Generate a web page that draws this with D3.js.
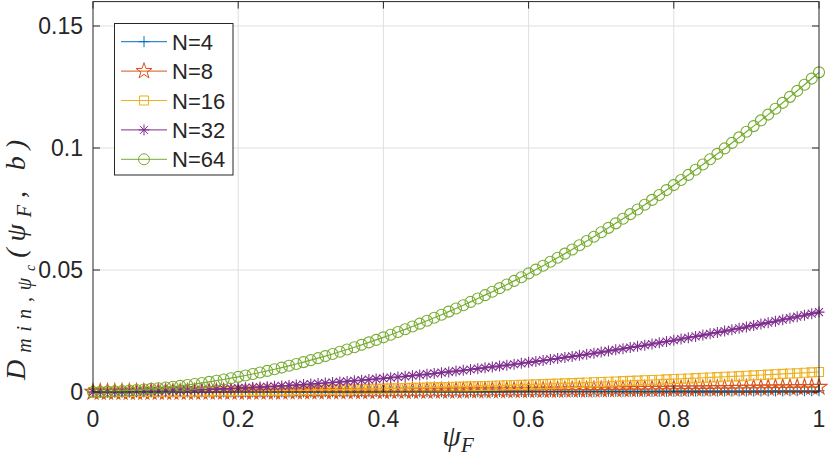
<!DOCTYPE html>
<html>
<head>
<meta charset="utf-8">
<script src="https://cdn.jsdelivr.net/npm/d3@7"></script>
<style>
body { margin: 0; background: #fff; }
text { font-family: "Liberation Sans", Arial, sans-serif; fill: #262626; }
.math { font-family: "Liberation Serif", "DejaVu Serif", serif; font-style: italic; }
</style>
</head>
<body>
<svg width="828" height="463"></svg>
<script>
//x runs from 0 to 1 in steps of 0.01
var psiStep = 0.01;

//values, one per step
var n4 = [0,0,0,0,0,0,0,0,0.00001,0.00001,0.00001,
	0.00001,0.00001,0.00001,0.00001,0.00001,0.00002,0.00002,0.00002,0.00002,0.00002,
	0.00003,0.00003,0.00003,0.00003,0.00004,0.00004,0.00004,0.00004,0.00005,0.00005,
	0.00005,0.00006,0.00006,0.00006,0.00007,0.00007,0.00008,0.00008,0.00008,0.00009,
	0.00009,0.0001,0.0001,0.0001,0.00011,0.00011,0.00012,0.00012,0.00013,0.00013,
	0.00014,0.00014,0.00015,0.00015,0.00016,0.00017,0.00017,0.00018,0.00018,0.00019,
	0.0002,0.0002,0.00021,0.00022,0.00022,0.00023,0.00023,0.00024,0.00025,0.00026,
	0.00026,0.00027,0.00028,0.00028,0.00029,0.0003,0.00031,0.00032,0.00032,0.00033,
	0.00034,0.00035,0.00036,0.00036,0.00037,0.00038,0.00039,0.0004,0.00041,0.00042,
	0.00043,0.00043,0.00044,0.00045,0.00046,0.00047,0.00048,0.00049,0.0005,0.00051];

var n8 = [0,0,0,0,0.00001,0.00001,0.00001,0.00002,0.00002,0.00002,0.00003,
	0.00003,0.00004,0.00005,0.00005,0.00006,0.00007,0.00007,0.00008,0.00009,0.0001,
	0.00011,0.00012,0.00012,0.00014,0.00015,0.00016,0.00017,0.00018,0.00019,0.0002,
	0.00022,0.00023,0.00024,0.00026,0.00027,0.00029,0.0003,0.00032,0.00033,0.00035,
	0.00037,0.00038,0.0004,0.00042,0.00044,0.00046,0.00048,0.0005,0.00051,0.00054,
	0.00056,0.00058,0.0006,0.00062,0.00064,0.00066,0.00069,0.00071,0.00074,0.00076,
	0.00078,0.00081,0.00083,0.00086,0.00089,0.00091,0.00094,0.00097,0.00099,0.00102,
	0.00105,0.00108,0.00111,0.00114,0.00117,0.0012,0.00123,0.00126,0.00129,0.00133,
	0.00136,0.00139,0.00142,0.00146,0.00149,0.00153,0.00156,0.0016,0.00163,0.00167,
	0.0017,0.00174,0.00178,0.00181,0.00185,0.00189,0.00193,0.00197,0.00201,0.00205];

var n16 = [0,0.000005,0.00001,0.00002,0.00003,0.00004,0.00005,0.00006,0.00008,0.0001,0.00012,
	0.00014,0.00016,0.00018,0.00021,0.00023,0.00026,0.00029,0.00032,0.00035,0.00039,
	0.00042,0.00046,0.0005,0.00054,0.00058,0.00063,0.00067,0.00072,0.00077,0.00082,
	0.00087,0.00092,0.00097,0.00103,0.00109,0.00115,0.00121,0.00127,0.00133,0.0014,
	0.00147,0.00154,0.00161,0.00168,0.00175,0.00183,0.0019,0.00198,0.00206,0.00214,
	0.00222,0.00231,0.00239,0.00248,0.00257,0.00266,0.00275,0.00285,0.00294,0.00304,
	0.00314,0.00324,0.00334,0.00344,0.00354,0.00365,0.00376,0.00387,0.00398,0.00409,
	0.0042,0.00432,0.00444,0.00456,0.00468,0.0048,0.00492,0.00505,0.00517,0.0053,
	0.00543,0.00556,0.00569,0.00583,0.00596,0.0061,0.00624,0.00638,0.00652,0.00667,
	0.00681,0.00696,0.00711,0.00726,0.00741,0.00756,0.00771,0.00787,0.00803,0.00819];

var n32 = [0,0.00002,0.00004,0.00007,0.00011,0.00015,0.0002,0.00026,0.00032,0.00039,0.00046,
	0.00054,0.00063,0.00072,0.00082,0.00093,0.00104,0.00116,0.00128,0.00141,0.00155,
	0.00169,0.00184,0.002,0.00216,0.00233,0.0025,0.00268,0.00287,0.00306,0.00326,
	0.00347,0.00368,0.0039,0.00412,0.00435,0.00459,0.00483,0.00508,0.00534,0.0056,
	0.00587,0.00614,0.00642,0.00671,0.007,0.0073,0.00761,0.00792,0.00824,0.00856,
	0.00889,0.00923,0.00957,0.00992,0.01028,0.01064,0.01101,0.01138,0.01176,0.01215,
	0.01254,0.01294,0.01335,0.01376,0.01418,0.0146,0.01503,0.01547,0.01591,0.01636,
	0.01682,0.01728,0.01775,0.01822,0.0187,0.01919,0.01968,0.02018,0.02069,0.0212,
	0.02172,0.02224,0.02277,0.02331,0.02385,0.0244,0.02496,0.02552,0.02609,0.02666,
	0.02724,0.02783,0.02842,0.02902,0.02963,0.03024,0.03086,0.03148,0.03211,0.03275];

var n64 = [0,0.00007,0.00017,0.00029,0.00044,0.00061,0.00081,0.00103,0.00128,0.00155,0.00185,
	0.00217,0.00252,0.00289,0.00329,0.00371,0.00416,0.00463,0.00513,0.00565,0.0062,
	0.00677,0.00737,0.00799,0.00864,0.00931,0.01001,0.01073,0.01148,0.01225,0.01305,
	0.01387,0.01472,0.01559,0.01649,0.01741,0.01836,0.01933,0.02033,0.02135,0.0224,
	0.02347,0.02457,0.02569,0.02684,0.02801,0.02921,0.03043,0.03168,0.03295,0.03425,
	0.03557,0.03692,0.03829,0.03969,0.04111,0.04256,0.04403,0.04553,0.04705,0.0486,
	0.05017,0.05177,0.05339,0.05504,0.05671,0.05841,0.06013,0.06188,0.06365,0.06545,
	0.06727,0.06912,0.07099,0.07289,0.07481,0.07676,0.07873,0.08073,0.08275,0.0848,
	0.08687,0.08897,0.09109,0.09324,0.09541,0.09761,0.09983,0.10208,0.10435,0.10665,
	0.10897,0.11132,0.11369,0.11609,0.11851,0.12096,0.12343,0.12593,0.12845,0.131];

var seriesNames = ["N=4", "N=8", "N=16", "N=32", "N=64"];
var seriesValues = [n4, n8, n16, n32, n64];
var seriesColors = ["#0072BD", "#D95319", "#EDB120", "#7E2F8E", "#77AC30"];
var seriesMarkers = ["plus", "star", "square", "asterisk", "circle"];

var xTicks = [0, 0.2, 0.4, 0.6, 0.8, 1];
var xTickLabels = ["0", "0.2", "0.4", "0.6", "0.8", "1"];
var yTicks = [0, 0.05, 0.1, 0.15];
var yTickLabels = ["0", "0.05", "0.1", "0.15"];

var svg = d3.select("svg"),
	width = +svg.attr("width"),
	height = +svg.attr("height");

var margin = { left: 93, right: 9, top: 1.6, bottom: 71 };

var x = d3.scaleLinear().domain([0, 1]).range([margin.left, width - margin.right]);
var y = d3.scaleLinear().domain([0, 0.16]).range([height - margin.bottom, margin.top]);

var axisColor = "#262626";

//grid lines
var grid = svg.append("g").attr("class", "grid");
grid.selectAll(".gx")
	.data(xTicks.slice(1, -1))
	.enter().append("line")
	.attr("x1", function (d) { return x(d); })
	.attr("x2", function (d) { return x(d); })
	.attr("y1", y(0.16))
	.attr("y2", y(0))
	.style("stroke", "#dfdfdf");
grid.selectAll(".gy")
	.data(yTicks.slice(1))
	.enter().append("line")
	.attr("y1", function (d) { return y(d); })
	.attr("y2", function (d) { return y(d); })
	.attr("x1", x(0))
	.attr("x2", x(1))
	.style("stroke", "#dfdfdf");

//marker shapes
function markerPath(type) {
	var r = 5.5, a = r * 0.72;
	if (type == "plus") return "M" + (-r) + ",0L" + r + ",0M0," + (-r) + "L0," + r;
	if (type == "asterisk") return "M" + (-r) + ",0L" + r + ",0M0," + (-r) + "L0," + r +
		"M" + (-a) + "," + (-a) + "L" + a + "," + a + "M" + (-a) + "," + a + "L" + a + "," + (-a);
	if (type == "square") return "M-4.5,-4.5L4.5,-4.5L4.5,4.5L-4.5,4.5Z";
	if (type == "circle") return d3.symbol().type(d3.symbolCircle).size(Math.PI * 5.5 * 5.5)();
	if (type == "star") return d3.symbol().type(d3.symbolStar).size(80)();
}

var line = d3.line()
	.x(function (d, i) { return x(i * psiStep); })
	.y(function (d) { return y(d); });

var plot = svg.append("g").attr("class", "series");

seriesValues.forEach(function (vals, k) {
	var g = plot.append("g");
	g.append("path")
		.datum(vals)
		.attr("d", line)
		.style("fill", "none")
		.style("stroke", seriesColors[k])
		.style("stroke-width", 1.2);
	g.selectAll(".m")
		.data(vals)
		.enter().append("path")
		.attr("d", markerPath(seriesMarkers[k]))
		.attr("transform", function (d, i) { return "translate(" + x(i * psiStep) + "," + y(d) + ")"; })
		.style("fill", "none")
		.style("stroke", seriesColors[k])
		.style("stroke-width", 1.1);
});

//axes box with inward ticks on all sides
var axes = svg.append("g").attr("class", "axes");
axes.append("rect")
	.attr("x", x(0))
	.attr("y", y(0.16))
	.attr("width", x(1) - x(0))
	.attr("height", y(0) - y(0.16))
	.style("fill", "none")
	.style("stroke", axisColor)
	.style("stroke-width", 1);

var tickLen = 7;
xTicks.forEach(function (t) {
	axes.append("line").attr("x1", x(t)).attr("x2", x(t)).attr("y1", y(0)).attr("y2", y(0) - tickLen).style("stroke", axisColor);
	axes.append("line").attr("x1", x(t)).attr("x2", x(t)).attr("y1", y(0.16)).attr("y2", y(0.16) + tickLen).style("stroke", axisColor);
});
yTicks.forEach(function (t) {
	axes.append("line").attr("y1", y(t)).attr("y2", y(t)).attr("x1", x(0)).attr("x2", x(0) + tickLen).style("stroke", axisColor);
	axes.append("line").attr("y1", y(t)).attr("y2", y(t)).attr("x1", x(1)).attr("x2", x(1) - tickLen).style("stroke", axisColor);
});

axes.selectAll(".xl")
	.data(xTicks)
	.enter().append("text")
	.attr("x", function (d) { return x(d); })
	.attr("y", y(0) + 35)
	.attr("text-anchor", "middle")
	.style("font-size", "23px")
	.text(function (d, i) { return xTickLabels[i]; });

axes.selectAll(".yl")
	.data(yTicks)
	.enter().append("text")
	.attr("x", x(0) - 10)
	.attr("y", function (d) { return y(d) + 8; })
	.attr("text-anchor", "end")
	.style("font-size", "23px")
	.text(function (d, i) { return yTickLabels[i]; });

//x label
var xl = svg.append("text")
	.attr("class", "math")
	.attr("x", x(0.5) + 2)
	.attr("y", 446)
	.attr("text-anchor", "middle")
	.style("font-size", "30px");
xl.append("tspan").text("ψ");
xl.append("tspan").attr("dy", 6).style("font-size", "21px").text("F");

//y label, stretched over the same run as in the figure
var yl = svg.append("text")
	.attr("class", "math")
	.attr("transform", "translate(25,380) rotate(-90)")
	.attr("textLength", 240)
	.attr("lengthAdjust", "spacing")
	.style("font-size", "28px");
yl.append("tspan").text("D");
yl.append("tspan").attr("dy", 6).style("font-size", "20px").text("min,ψ");
yl.append("tspan").attr("dy", 4).style("font-size", "14px").text("c");
yl.append("tspan").attr("dy", -10).text("(ψ");
yl.append("tspan").attr("dy", 6).style("font-size", "20px").text("F");
yl.append("tspan").attr("dy", -6).text(", b)");

//legend
var legend = svg.append("g").attr("class", "legend");
legend.append("rect")
	.attr("x", 114.5)
	.attr("y", 23.5)
	.attr("width", 118.5)
	.attr("height", 151.5)
	.style("fill", "#fff")
	.style("stroke", axisColor)
	.style("stroke-width", 1);

seriesNames.forEach(function (name, k) {
	var cy = 41.7 + k * 29.4;
	var row = legend.append("g");
	row.append("line")
		.attr("x1", 121).attr("x2", 167)
		.attr("y1", cy).attr("y2", cy)
		.style("stroke", seriesColors[k]);
	row.append("path")
		.attr("d", markerPath(seriesMarkers[k]))
		.attr("transform", "translate(144," + cy + ")")
		.style("fill", "none")
		.style("stroke", seriesColors[k]);
	row.append("text")
		.attr("x", 172)
		.attr("y", cy + 8)
		.style("font-size", "22px")
		.text(name);
});
</script>
</body>
</html>
